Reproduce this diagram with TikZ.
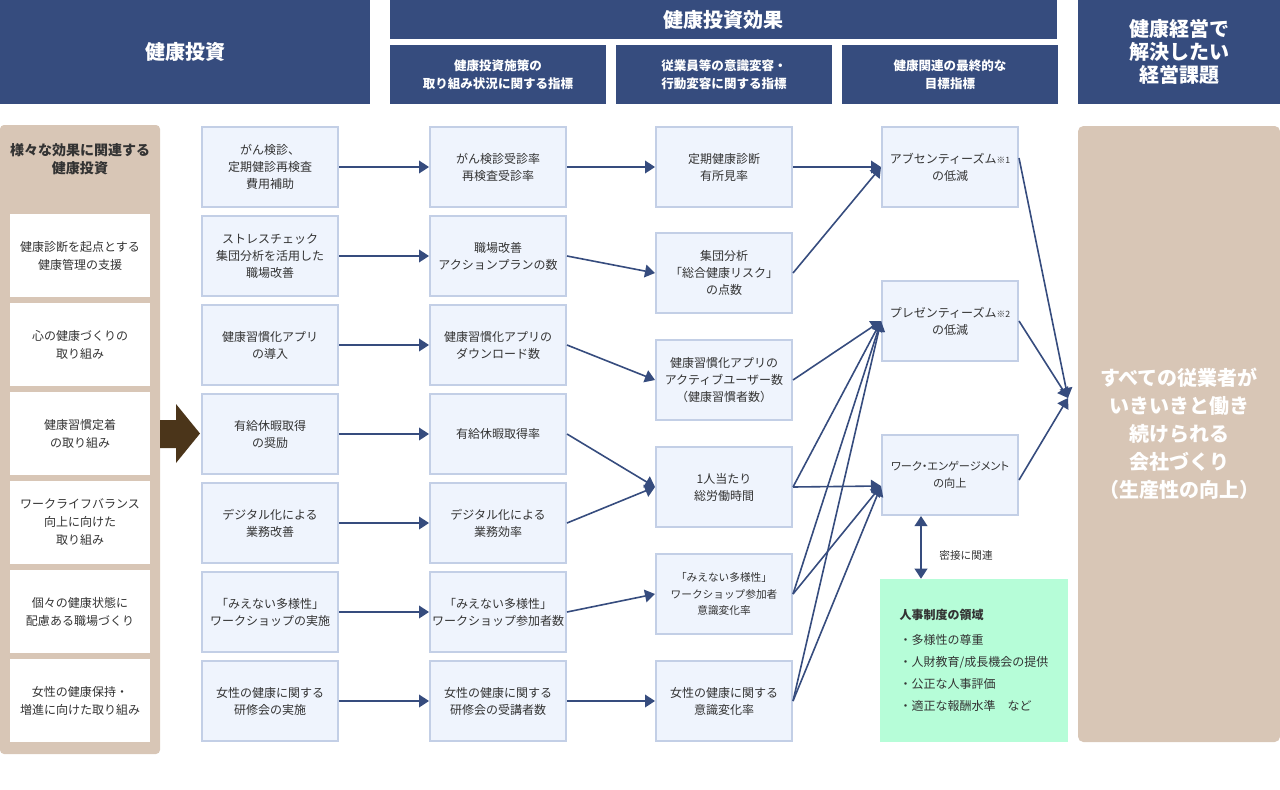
\documentclass[tikz,border=0pt]{standalone}
\usepackage{fontspec}
\setmainfont{Noto Sans CJK JP}
\usetikzlibrary{arrows.meta}
\definecolor{navy}{HTML}{364C7E}
\definecolor{boxfill}{HTML}{EFF4FD}
\definecolor{boxline}{HTML}{C3CFE6}
\definecolor{tan}{HTML}{D8C6B6}
\definecolor{umber}{HTML}{4B351A}
\definecolor{mint}{HTML}{B6FDD8}
\definecolor{txt}{HTML}{333333}
\newcommand\notemark[1]{{\fontsize{6.5}{7}\selectfont #1}}
\begin{document}
\begin{tikzpicture}[x=.75pt,y=-.75pt,
	head/.style={fill=navy,text=white,font=\bfseries,align=center,inner sep=0},
	box/.style={draw=boxline,line width=1.5pt,fill=boxfill,minimum width=102pt,minimum height=60pt,inner sep=0,align=center,text=txt,font=\fontsize{9}{12.75}\selectfont},
	side/.style={fill=white,minimum width=105pt,minimum height=62.25pt,inner sep=0,align=center,text=txt,font=\fontsize{9}{13.5}\selectfont},
	arr/.style={navy,line width=1.2pt,-{Triangle[length=7.5pt,width=9.5pt]}}]
	\useasboundingbox (0,0) rectangle (1280,789);
	\node[head,minimum width=277.5pt,minimum height=78pt,font=\fontsize{15}{18}\bfseries] (hinv) at (185,52) {健康投資};
	\node[head,minimum width=500.25pt,minimum height=29.25pt,font=\fontsize{15}{18}\bfseries] (heff) at (723.5,19.5) {健康投資効果};
	\node[head,minimum width=162pt,minimum height=44.25pt,font=\fontsize{9.4}{13.5}\bfseries] (hsub1) at (498,74.5) {健康投資施策の\\取り組み状況に関する指標};
	\node[head,minimum width=162pt,minimum height=44.25pt,font=\fontsize{9.4}{13.5}\bfseries] (hsub2) at (724,74.5) {従業員等の意識変容・\\行動変容に関する指標};
	\node[head,minimum width=162pt,minimum height=44.25pt,font=\fontsize{9.4}{13.5}\bfseries] (hsub3) at (950,74.5) {健康関連の最終的な\\目標指標};
	\node[head,minimum width=151.5pt,minimum height=78pt,font=\fontsize{15}{17.25}\bfseries] (hgoal) at (1179,52) {健康経営で\\解決したい\\経営課題};
	\fill[tan,rounded corners=3pt] (0,125) rectangle (160,754);
	\node[text=txt,align=center,font=\fontsize{10.5}{13.5}\bfseries] (stitle) at (80,159) {様々な効果に関連する\\健康投資};
	\foreach[count=\i] \t in {{健康診断を起点とする\\健康管理の支援},{心の健康づくりの\\取り組み},{健康習慣定着\\の取り組み},{ワークライフバランス\\向上に向けた\\取り組み},{個々の健康状態に\\配慮ある職場づくり},{女性の健康保持・\\増進に向けた取り組み}}
	\node[side] (s\i) at (80,{166.5+89*\i}) {\t};
	\fill[umber] (160,420)--(176,420)--(176,404)--(200,433.5)--(176,463)--(176,448)--(160,448)--cycle;
	\foreach[count=\i] \t in {{がん検診、\\定期健診再検査\\費用補助},{ストレスチェック\\集団分析を活用した\\職場改善},{健康習慣化アプリ\\の導入},{有給休暇取得\\の奨励},{デジタル化による\\業務改善},{「みえない多様性」\\ワークショップの実施},{女性の健康に関する\\研修会の実施}}
	\node[box] (a\i) at (270,{78+89*\i}) {\t};
	\foreach[count=\i] \t in {{がん検診受診率\\再検査受診率},{職場改善\\アクションプランの数},{健康習慣化アプリの\\ダウンロード数},{有給休暇取得率},{デジタル化による\\業務効率},{「みえない多様性」\\ワークショップ参加者数},{女性の健康に関する\\研修会の受講者数}}
	\node[box] (b\i) at (498,{78+89*\i}) {\t};
	\node[box] (c1) at (724,167) {定期健康診断\\有所見率};
	\node[box] (c2) at (724,273) {集団分析\\「総合健康リスク」\\の点数};
	\node[box] (c3) at (724,380) {健康習慣化アプリの\\アクティブユーザー数\\（健康習慣者数）};
	\node[box] (c4) at (724,487) {1人当たり\\総労働時間};
	\node[box,font=\fontsize{8}{12.4}\selectfont] (c5) at (724,594) {「みえない多様性」\\ワークショップ参加者\\意識変化率};
	\node[box] (c6) at (724,701) {女性の健康に関する\\意識変化率};
	\node[box] (d1) at (950,167) {アブセンティーズム\notemark{※1}\\の低減};
	\node[box] (d2) at (950,321) {プレゼンティーズム\notemark{※2}\\の低減};
	\node[box,font=\fontsize{8.4}{12.75}\selectfont\addfontfeature{RawFeature=+palt}] (d3) at (950,475) {ワーク・エンゲージメント\\の向上};
	\node[fill=mint,minimum width=141pt,minimum height=122.25pt,inner sep=0,align=left,text=txt,font=\fontsize{9}{16.5}\selectfont] (hr) at (974,660.5) {{\bfseries 人事制度の領域}\\[2pt]・多様性の尊重\\・人財教育/成長機会の提供\\・公正な人事評価\\・適正な報酬水準　など};
	\node[fill=tan,rounded corners=4pt,minimum width=151.5pt,minimum height=462pt,inner sep=0,align=center,text=white,font=\fontsize{15}{21}\bfseries] (goal) at (1179,434) {すべての従業者が\\いきいきと働き\\続けられる\\会社づくり\\（生産性の向上）};
	\coordinate (tip) at (1068,398);
	\coordinate (rel) at (921,0);
	\coordinate (d1out) at ([yshift=6.75pt]d1.east);
	\coordinate (d2out) at (d2.east);
	\coordinate (d3out) at ([yshift=-3.75pt]d3.east);
	\coordinate (d3in) at ([yshift=-8.25pt]d3.west);
	\foreach \i in {1,...,7}
	\draw[arr] (a\i) -- (b\i);
	\foreach \p/\q in {b1/c1,b2/c2,b3/c3,b4/c4,b5/c4,b6/c5,b7/c6,c1/d1,c2/d1,c3/d2,c4/d2,c5/d2,c6/d2}
	\draw[arr] (\p.east) -- (\q.west);
	\foreach \p in {c4,c5,c6}
	\draw[arr] (\p.east) -- (d3in);
	\foreach \p in {d1,d2,d3}
	\draw[arr] (\p out) -- (tip);
	\draw[navy,line width=1.2pt,{Triangle[length=7.5pt,width=9.5pt]}-{Triangle[length=7.5pt,width=9.5pt]}] (d3.south -| rel) -- (hr.north -| rel);
	\node[text=txt,font=\fontsize{8}{10}\selectfont] (rellabel) at (966,555) {密接に関連};
\end{tikzpicture}
\end{document}
